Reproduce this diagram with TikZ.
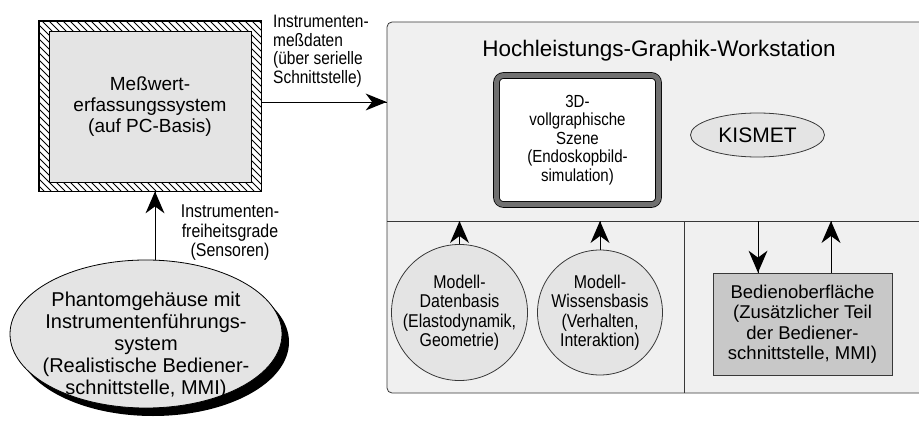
\documentclass[tikz,border=0pt]{standalone}
\usepackage{fontspec}
\setmainfont{Liberation Sans}
\newfontfamily\narrowfont[FakeStretch=0.86]{Liberation Sans}
\usetikzlibrary{shapes.geometric}

\definecolor{panelgray}{HTML}{F0F0F0}
\definecolor{lightfill}{HTML}{E4E4E4}
\definecolor{boxfill}{HTML}{C8C8C8}
\definecolor{framegray}{HTML}{707070}
\definecolor{edgegray}{HTML}{383838}

% barbed arrow heads, tip at the given point
\newcommand{\headup}[1]{\fill #1 -- ++(-9.5, 22) -- ++(9.5, -7) -- ++(9.5, 7) -- cycle;}
\newcommand{\headdown}[1]{\fill #1 -- ++(-9.5, -22) -- ++(9.5, 7) -- ++(9.5, -7) -- cycle;}
\newcommand{\headright}[1]{\fill #1 -- ++(-21, -8.5) -- ++(6.5, 8.5) -- ++(-6.5, 8.5) -- cycle;}

\tikzset{
    arr/.style = {line width = 0.8pt},
    widetxt/.style = {font = \fontsize{19}{21}\selectfont, align = center},
    narrowtxt/.style = {font = \narrowfont\fontsize{18.5}{19.5}\selectfont, align = center},
    roundnode/.style = {circle, draw = edgegray, fill = lightfill, line width = 0.8pt,
            minimum size = 125pt, inner sep = 0pt, narrowtxt}
}

\begin{document}
\begin{tikzpicture}[x = 1pt, y = -1pt]

        \clip (0, 0) rectangle (919, 425);
        \useasboundingbox (0, 0) rectangle (919, 425);

        % workstation panel, running off the right edge
        \node [draw = edgegray, fill = panelgray, rounded corners = 5pt, line width = 0.8pt,
            minimum width = 560pt, minimum height = 371pt, inner sep = 0pt] (ws) at (667, 207.5) {};
        \coordinate (split) at (387, 221);
        \draw [edgegray, line width = 0.8pt] (split) -- (split -| 940, 0)
        (684, 221) -- (684, 393);

        \node [font = \fontsize{22.5}{24}\selectfont] (title) at (659, 51) {Hochleistungs-Graphik-Workstation};

        \node [draw = black, double = framegray, double distance = 5pt, line width = 0.8pt,
            fill = white, rounded corners = 7pt, minimum width = 162pt, minimum height = 129pt,
            inner sep = 0pt, narrowtxt, font = \narrowfont\fontsize{17.5}{18.5}\selectfont] (scene) at (577.5, 140)
        {3D-\\vollgraphische\\Szene\\(Endoskopbild-\\simulation)};

        \node [ellipse, draw = edgegray, fill = lightfill, line width = 0.8pt, minimum width = 134pt,
            minimum height = 44pt, inner sep = 0pt, font = \fontsize{21}{22}\selectfont] (kismet) at (757.5, 135) {KISMET};

        \node [roundnode] (daten) at (459.5, 312.5) {Modell-\\Datenbasis\\(Elastodynamik,\\Geometrie)};
        \node [roundnode] (wissen) at (600, 312.5) {Modell-\\Wissensbasis\\(Verhalten,\\Interaktion)};

        \node [draw = edgegray, fill = boxfill, line width = 0.8pt, minimum width = 179pt,
            minimum height = 102pt, inner sep = 0pt, widetxt, font = \fontsize{18.5}{20.5}\selectfont] (bedien) at (802.5, 324)
        {Bedienoberfläche\\(Zusätzlicher Teil\\der Bediener-\\schnittstelle, MMI)};

        \draw [arr] (daten.north) -- (daten.north |- split);
        \headup{(daten.north |- split)}
        \draw [arr] (wissen.north) -- (wissen.north |- split);
        \headup{(wissen.north |- split)}
        \draw [arr] ([xshift = -44.5pt]bedien.north |- split) -- ([xshift = -44.5pt]bedien.north);
        \headdown{([xshift = -44.5pt]bedien.north)}
        \draw [arr] ([xshift = 28.5pt]bedien.north) -- ([xshift = 28.5pt]bedien.north |- split);
        \headup{([xshift = 28.5pt]bedien.north |- split)}

        % PC front end with hatched frame
        \node [draw = black, line width = 0.8pt, minimum width = 222pt, minimum height = 170pt,
            inner sep = 0pt] (mess) at (150, 106) {};
        \begin{scope}
            \clip (mess.south west) rectangle (mess.north east);
            \foreach \i in {-182, -175, ..., 270} {
                    \draw [line width = 0.9pt] (\i, 21) -- (\i + 170, 191);
                }
        \end{scope}
        \draw [line width = 0.8pt] (mess.south west) rectangle (mess.north east);
        \node [draw = black, fill = lightfill, line width = 0.8pt, minimum width = 202pt,
            minimum height = 151pt, inner sep = 0pt, widetxt] (messin) at (150, 106.5)
        {Meßwert-\\erfassungssystem\\(auf PC-Basis)};

        \draw [arr] ([yshift = 4pt]mess.east) -- ([yshift = 4pt]mess.east -| ws.west);
        \headright{([yshift = 4pt]mess.east -| ws.west)}
        \node [narrowtxt, font = \narrowfont\fontsize{18}{18.5}\selectfont, align = left,
            anchor = north west, inner sep = 0pt] (messdaten) at (273, 15)
        {Instrumenten-\\meßdaten\\(über serielle\\Schnittstelle)};

        % phantom with its black shadow
        \node [ellipse, fill = black, minimum width = 272pt, minimum height = 148pt,
            inner sep = 0pt] (shadow) at (153, 342) {};
        \node [ellipse, draw = black, fill = lightfill, line width = 0.8pt, minimum width = 272pt,
            minimum height = 148pt, inner sep = 0pt] (phantom) at (146, 334) {};
        \node [widetxt, font = \fontsize{20}{22}\selectfont] (phantomtxt) at (146, 345)
        {Phantomgehäuse mit\\Instrumentenführungs-\\system\\(Realistische Bediener-\\schnittstelle, MMI)};

        \draw [arr] ([xshift = 9pt]phantom.north) -- ([xshift = 9pt]phantom.north |- mess.south);
        \headup{([xshift = 9pt]phantom.north |- mess.south)}
        \node [narrowtxt] (freiheit) at (230, 233) {Instrumenten-\\freiheitsgrade\\(Sensoren)};

    \end{tikzpicture}
\end{document}
